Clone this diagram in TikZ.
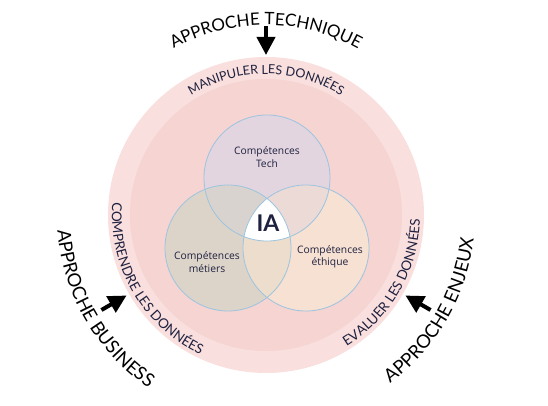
\documentclass[tikz,border=0pt]{standalone}
\usepackage{fontspec}
\setmainfont{Lato}
\newfontfamily\vennfont{Open Sans}
\usetikzlibrary{arrows.meta,decorations.text}
\definecolor{ringPink}{HTML}{F9DFDD}
\definecolor{discPink}{HTML}{F5D4D2}
\definecolor{techFill}{HTML}{E3D5DF}
\definecolor{metierFill}{HTML}{DDD4C9}
\definecolor{ethiqueFill}{HTML}{F6E1D2}
\definecolor{techMetierFill}{HTML}{D8D3CE}
\definecolor{techEthiqueFill}{HTML}{ECDAD6}
\definecolor{metierEthiqueFill}{HTML}{ECDDCC}
\definecolor{vennBlue}{HTML}{9CC4DF}
\definecolor{inkNavy}{HTML}{1E2140}
\newcommand\approcheFont{\color{black}\fontsize{17}{17}\selectfont}
\newcommand\approcheSideFont{\color{black}\fontsize{18.5}{18.5}\selectfont}
\newcommand\donneesFont{\color{inkNavy}\fontsize{12.5}{12.5}\selectfont}
\newcommand\donneesSideFont{\color{inkNavy}\fontsize{13.5}{13.5}\selectfont}

\begin{document}
\begin{tikzpicture}[
  x=1pt, y=1pt,
  ringDisc/.style={circle, inner sep=0pt, outer sep=0pt, minimum size=316pt, fill=ringPink},
  innerDisc/.style={circle, inner sep=0pt, outer sep=0pt, minimum size=272pt, fill=discPink},
  vennCircle/.style={circle, inner sep=0pt, outer sep=0pt, minimum size=126pt},
  vennLine/.style={draw=vennBlue, line width=0.8pt},
  vennLabel/.style={align=center, font=\vennfont\fontsize{10.3}{12.5}\selectfont, text=inkNavy},
  iaLabel/.style={font=\bfseries\fontsize{23}{23}\selectfont, text=inkNavy},
  bigArrow/.style={-{Triangle[length=18pt, width=18pt]}, line width=4pt, draw=black},
  arcText/.style={decorate, decoration={text along path, text align=center, text={#1}}}
]
\useasboundingbox (-266,-191) rectangle (282,215);
\coordinate (ctr) at (0,0);

% pink background discs
\node[ringDisc] (ring) at (ctr) {};
\node[innerDisc] (disc) at (ctr) {};

% venn circles
\node[vennCircle, fill=techFill] (tech) at (1,37) {};
\node[vennCircle, fill=metierFill] (metier) at (-38,-33) {};
\node[vennCircle, fill=ethiqueFill] (ethique) at (40,-33) {};

\begin{scope}
  \clip (tech.center) circle[radius=63pt];
  \fill[techMetierFill] (metier.center) circle[radius=63pt];
  \fill[techEthiqueFill] (ethique.center) circle[radius=63pt];
\end{scope}
\begin{scope}
  \clip (metier.center) circle[radius=63pt];
  \fill[metierEthiqueFill] (ethique.center) circle[radius=63pt];
  \clip (ethique.center) circle[radius=63pt];
  \fill[white] (tech.center) circle[radius=63pt];
\end{scope}
\foreach \c in {tech,metier,ethique}
  \draw[vennLine] (\c.center) circle[radius=63pt];

\node[vennLabel] (techLabel) at (1,58) {Compétences\\Tech};
\node[vennLabel] (metierLabel) at (-59,-47) {Compétences\\métiers};
\node[vennLabel] (ethiqueLabel) at (64,-42) {Compétences\\éthique};
\node[iaLabel] (ia) at (2,-8) {IA};

% data texts on the ring
\path[arcText={|\donneesFont|MANIPULER LES DONNÉES}]
  (150:141pt) arc[start angle=150, end angle=30, radius=141pt];
\path[arcText={|\donneesSideFont|COMPRENDRE LES DONNÉES}]
  (150:154pt) arc[start angle=150, end angle=270, radius=154pt];
\path[arcText={|\donneesSideFont|EVALUER LES DONNÉES}]
  (-90:154pt) arc[start angle=-90, end angle=30, radius=154pt];

% approaches outside
\path[arcText={|\approcheFont|APPROCHE TECHNIQUE}]
  (150:190pt) arc[start angle=150, end angle=30, radius=190pt];
\path[arcText={|\approcheSideFont|APPROCHE BUSINESS}]
  (140:209pt) arc[start angle=140, end angle=280, radius=209pt];
\path[arcText={|\approcheSideFont|APPROCHE ENJEUX}]
  (-100:209pt) arc[start angle=-100, end angle=40, radius=209pt];

\coordinate (techTail) at (90:189pt);
\coordinate (techTip) at (90:160pt);
\coordinate (businessTail) at (210:190pt);
\coordinate (businessTip) at (210:161pt);
\coordinate (enjeuxTail) at (-30:190pt);
\coordinate (enjeuxTip) at (-30:161pt);
\draw[bigArrow] (techTail) -- (techTip);
\draw[bigArrow] (businessTail) -- (businessTip);
\draw[bigArrow] (enjeuxTail) -- (enjeuxTip);
\end{tikzpicture}
\end{document}
